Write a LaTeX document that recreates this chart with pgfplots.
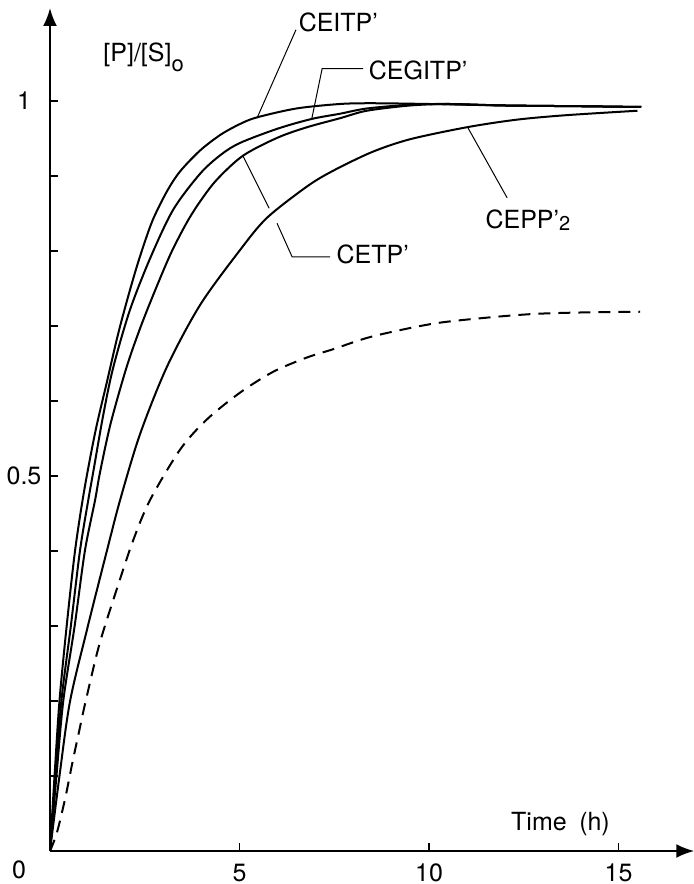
\documentclass[border=0pt]{standalone}
\usepackage{fontspec}
\setmainfont{TeX Gyre Heros}
\usepackage{pgfplots}
\pgfplotsset{compat=1.18}
\usetikzlibrary{arrows.meta}
\newcommand{\lf}{\fontsize{12.5bp}{15bp}\selectfont}
\begin{document}
\begin{tikzpicture}[font=\lf]
\begin{axis}[
  at={(0,0)}, anchor=origin,
  x=18.95bp, y=375bp,
  xmin=0, xmax=17.0, ymin=0, ymax=1.124,
  axis lines=left,
  axis line style={line width=1.1bp},
  x axis line style={-{Latex[length=9bp,width=7bp]}},
  y axis line style={-{Latex[length=9bp,width=7bp]}},
  xtick={5,10,15}, xticklabels={5,10,15},
  ytick={0.1,0.2,0.3,0.4,0.5,0.6,0.7,0.8,0.9,1},
  yticklabels={,,,,0.5,,,,,1},
  tick align=inside, major tick length=4bp,
  tick style={line width=0.8bp, black},
  xticklabel style={anchor=center, yshift=-11bp, font=\lf},
  yticklabel style={anchor=center, xshift=-13bp, font=\lf},
  clip=false,
]
\addplot[line width=1bp, smooth] coordinates {
(0,0)(0.12,0.10)(0.25,0.20)(0.44,0.30)(0.66,0.40)(0.90,0.48)(1.20,0.56)(1.50,0.625)(1.80,0.69)(2.11,0.748)(2.37,0.792)(2.70,0.840)(3.08,0.879)(3.43,0.906)(3.96,0.934)(4.50,0.955)(5.00,0.969)(5.45,0.978)(6.50,0.990)(7.65,0.996)(8.50,0.997)(10.0,0.996)(12.0,0.994)(14.0,0.993)(15.6,0.992)};
\addplot[line width=1bp, smooth] coordinates {
(0,0)(0.15,0.10)(0.30,0.20)(0.55,0.30)(0.79,0.40)(1.01,0.468)(1.14,0.505)(1.40,0.58)(1.66,0.643)(2.10,0.72)(2.64,0.790)(3.25,0.855)(3.96,0.903)(4.50,0.928)(5.01,0.944)(6.00,0.963)(6.90,0.976)(7.65,0.983)(8.36,0.990)(9.50,0.995)(10.5,0.996)(12.0,0.994)(14.0,0.993)(15.6,0.992)};
\addplot[line width=1bp, smooth] coordinates {
(0,0)(0.17,0.10)(0.35,0.20)(0.65,0.30)(0.92,0.40)(1.19,0.468)(1.32,0.505)(1.60,0.57)(2.02,0.645)(2.40,0.70)(2.81,0.752)(3.20,0.798)(3.61,0.838)(3.96,0.866)(4.40,0.895)(5.09,0.927)(6.00,0.951)(6.78,0.965)(7.65,0.977)(8.36,0.987)(9.50,0.994)(10.5,0.996)(12.0,0.994)(14.0,0.993)(15.6,0.992)};
\addplot[line width=1bp, smooth] coordinates {
(0,0)(0.25,0.10)(0.53,0.20)(1.00,0.30)(1.50,0.40)(1.85,0.468)(2.37,0.555)(3.08,0.645)(3.96,0.728)(5.01,0.801)(5.72,0.844)(6.78,0.886)(7.47,0.907)(8.50,0.932)(9.50,0.949)(11.0,0.965)(12.3,0.975)(13.6,0.981)(15.5,0.987)};
\addplot[line width=1bp, smooth, dash pattern=on 6bp off 4bp] coordinates {
(0,0)(0.18,0.024)(0.40,0.07)(0.60,0.12)(0.77,0.16)(0.92,0.195)(1.30,0.275)(1.80,0.355)(2.20,0.415)(2.64,0.468)(3.43,0.535)(4.13,0.575)(5.01,0.611)(5.89,0.639)(6.78,0.658)(7.47,0.669)(8.50,0.686)(10.1,0.703)(11.5,0.711)(12.75,0.716)(14.0,0.718)(15.57,0.719)};
% leaders
\draw[line width=0.5bp] (axis cs:5.46,0.977) -- (axis cs:6.49,1.095);
\node[anchor=west, inner sep=1bp] at (axis cs:6.5,1.105) {CEITP\textquoteright};
\draw[line width=0.5bp] (axis cs:6.91,0.977) -- (axis cs:7.18,1.043) -- (axis cs:8.26,1.043);
\node[anchor=west, inner sep=1bp] at (axis cs:8.35,1.041) {CEGITP\textquoteright};
\draw[line width=0.5bp] (axis cs:5.09,0.927) -- (axis cs:5.78,0.857);
\draw[line width=0.5bp] (axis cs:5.99,0.837) -- (axis cs:6.39,0.792) -- (axis cs:7.39,0.792);
\node[anchor=west, inner sep=1bp] at (axis cs:7.5,0.795) {CETP\textquoteright};
\draw[line width=0.5bp] (axis cs:11.03,0.964) -- (axis cs:12.06,0.871);
\node[anchor=center] at (axis cs:12.61,0.841) {CEPP\textquoteright\raisebox{-1bp}{\fontsize{10bp}{12bp}\selectfont 2}};
\node[anchor=west, inner sep=0pt] at (axis cs:1.4,1.058) {[P]/[S]\raisebox{-5bp}{\fontsize{11bp}{12bp}\selectfont o}};
\node[anchor=center] at (axis cs:13.47,0.036) {Time\enspace (h)};
\end{axis}
\node at (-15.5bp,-9.5bp) {0};
\pgfresetboundingbox
\path[use as bounding box] (-25bp,-16.5bp) rectangle (322bp,425.5bp);
\end{tikzpicture}
\end{document}
